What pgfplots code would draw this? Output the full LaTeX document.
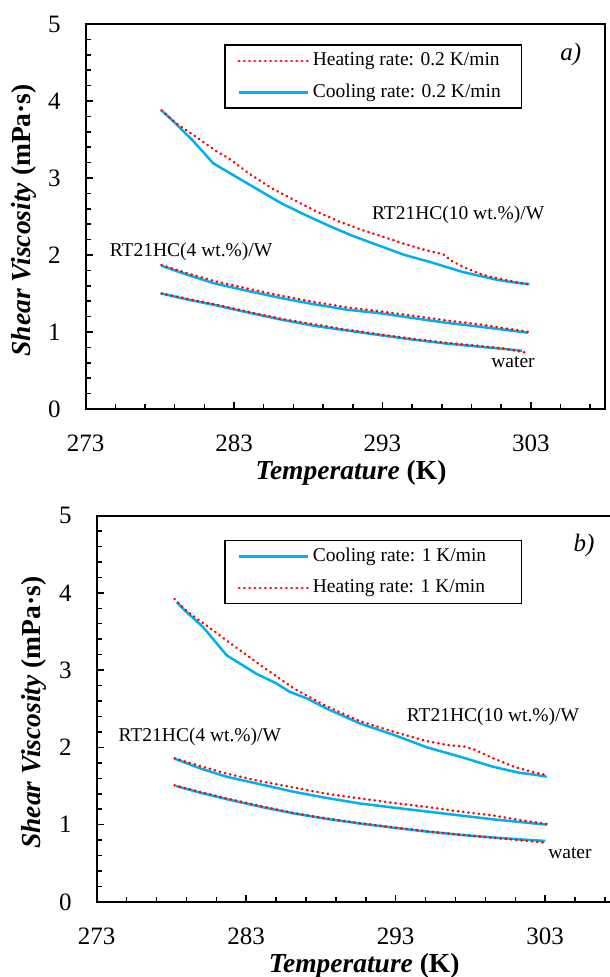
\documentclass[border=0pt]{standalone}
\usepackage{fontspec}
\setmainfont{Liberation Serif}
\usepackage{pgfplots}
\pgfplotsset{compat=1.18}

\definecolor{cool}{RGB}{0,176,240}
\definecolor{heat}{RGB}{255,0,0}
\newcommand{\lab}{\fontsize{7.8}{9}\selectfont}

\pgfplotsset{
  visc/.style={
    scale only axis,
    anchor=north west,
    xmin=273, xmax=308, ymin=0, ymax=5,
    xtick={273,283,293,303},
    minor xtick={275,277,...,307},
    ytick={0,1,...,5},
    minor ytick={0.2,0.4,...,4.8},
    tick align=inside,
    xtick pos=bottom, ytick pos=left,
    major tick length=2.8pt, minor tick length=2pt,
    axis line style={line width=0.8pt},
    tick style={black, line width=0.6pt},
    /pgf/number format/assume math mode=true,
    tick label style={font=\fontsize{10}{12}\selectfont},
    xticklabel style={yshift=-7pt},
    yticklabel style={xshift=-6.5pt},
    label style={font=\fontsize{11}{13}\selectfont\bfseries},
    xlabel={\textit{Temperature} (K)},
    ylabel={\textit{Shear Viscosity} (mPa·s)},
    xlabel style={at={(axis description cs:0.511,0)}, anchor=center, yshift=-25.6pt},
    ylabel style={at={(axis description cs:-0.119,0.49)}, anchor=center},
    legend cell align=left,
    legend image code/.code={\draw[##1] (0pt,0pt) -- (27.6pt,0pt);},
    legend style={anchor=north west, draw=black, line width=0.6pt, fill=white,
      font=\lab, inner xsep=5pt, inner ysep=1.2pt, row sep=2.4pt,
      nodes={inner sep=1.5pt, text height=5.6pt, text depth=1.6pt}},
  },
  coolline/.style={color=cool, line width=1pt, no markers},
  heatline/.style={color=heat, line width=1pt, line cap=round,
    dash pattern=on 0.2pt off 1.9pt, no markers},
}

\begin{document}
\begin{tikzpicture}
\path[use as bounding box] (0,0) rectangle (243.6pt,-390.8pt);

% ---- a) rate 0.2 K/min
\begin{axis}[visc, at={(34.28pt,-9.6pt)}, width=207.72pt, height=154pt,
  legend style={at={(0.267,0.947)}}]
  \addlegendimage{heatline}
  \addlegendentry{\makebox[77pt][l]{Heating rate: 0.2 K/min}}
  \addlegendimage{coolline}
  \addlegendentry{\makebox[77pt][l]{Cooling rate: 0.2 K/min}}

  % RT21HC(10 wt.%)/W
  \addplot[coolline, forget plot] coordinates {
    (278.1,3.88) (279.0,3.72) (280.2,3.49) (281.6,3.19) (283.1,3.02)
    (284.6,2.85) (286.2,2.67) (287.8,2.52) (289.5,2.37) (291.1,2.24)
    (292.8,2.12) (294.5,2.00) (296.2,1.91) (298.4,1.78) (300.8,1.675)
    (302.0,1.64) (302.9,1.62)};
  \addplot[heatline, forget plot] coordinates {
    (278.1,3.88) (279.1,3.71) (280.4,3.54) (281.7,3.36) (282.6,3.26)
    (284.0,3.06) (285.5,2.87) (287.0,2.72) (288.4,2.58) (290.0,2.44)
    (291.7,2.32) (293.0,2.24) (294.4,2.15) (295.6,2.08) (296.2,2.05)
    (297.1,2.01) (297.6,1.93) (298.5,1.84) (299.5,1.76) (300.4,1.71)
    (301.3,1.675) (302.0,1.65) (302.9,1.62)};
  % RT21HC(4 wt.%)/W
  \addplot[coolline, forget plot] coordinates {
    (278.1,1.86) (279.9,1.74) (281.7,1.63) (284.0,1.53) (286.2,1.44)
    (288.4,1.36) (290.6,1.29) (292.8,1.245) (295.1,1.18) (297.3,1.12)
    (299.5,1.07) (301.2,1.03) (302.8,0.99)};
  \addplot[heatline, forget plot] coordinates {
    (278.1,1.87) (279.9,1.76) (281.7,1.66) (284.0,1.56) (286.2,1.47)
    (288.4,1.39) (290.6,1.32) (292.8,1.27) (295.1,1.21) (297.3,1.15)
    (299.5,1.10) (301.2,1.05) (302.9,1.00)};
  % water
  \addplot[coolline, forget plot] coordinates {
    (278.1,1.50) (279.9,1.42) (281.7,1.35) (284.0,1.25) (286.2,1.16)
    (288.4,1.08) (290.6,1.02) (292.8,0.96) (295.1,0.90) (297.3,0.85)
    (299.5,0.81) (301.2,0.78) (302.4,0.757)};
  \addplot[heatline, forget plot] coordinates {
    (278.1,1.50) (279.9,1.43) (281.7,1.36) (284.0,1.26) (286.2,1.17)
    (288.4,1.10) (290.6,1.03) (292.8,0.97) (295.1,0.91) (297.3,0.86)
    (299.5,0.82) (301.2,0.785) (302.6,0.735)};

  \node[font=\lab] at (axis cs:298.1,2.52) {RT21HC(10 wt.\%)/W};
  \node[font=\lab] at (axis cs:280.1,2.04) {RT21HC(4 wt.\%)/W};
  \node[font=\lab] at (axis cs:301.8,0.61) {water};
  \node[font=\fontsize{10}{12}\selectfont\itshape] at (axis cs:305.7,4.6) {a)};
\end{axis}

% ---- b) rate 1 K/min
\begin{axis}[visc, at={(38.68pt,-206.2pt)}, width=209.32pt, height=154.6pt,
  legend style={at={(0.244,0.937)}}]
  \addlegendimage{coolline}
  \addlegendentry{\makebox[77pt][l]{Cooling rate: 1 K/min}}
  \addlegendimage{heatline}
  \addlegendentry{\makebox[77pt][l]{Heating rate: 1 K/min}}

  % RT21HC(10 wt.%)/W
  \addplot[coolline, forget plot] coordinates {
    (278.35,3.88) (278.9,3.77) (280.1,3.56) (281.7,3.19) (283.7,2.95)
    (285.0,2.83) (285.9,2.72) (287.1,2.63) (288.4,2.50) (290.6,2.31)
    (292.9,2.16) (295.1,2.00) (297.3,1.88) (299.5,1.75) (301.3,1.67)
    (302.2,1.65) (303.1,1.62)};
  \addplot[heatline, forget plot] coordinates {
    (278.2,3.92) (279.1,3.75) (280.4,3.57) (281.7,3.38) (283.0,3.20)
    (283.9,3.07) (286.2,2.76) (288.4,2.53) (290.6,2.34) (292.9,2.20)
    (295.1,2.08) (296.5,2.03) (297.6,2.01) (298.3,1.97) (299.5,1.86)
    (300.9,1.75) (302.0,1.69) (303.1,1.64)};
  % RT21HC(4 wt.%)/W
  \addplot[coolline, forget plot] coordinates {
    (278.2,1.855) (279.9,1.73) (281.7,1.62) (284.0,1.52) (286.2,1.425)
    (288.4,1.345) (290.6,1.275) (292.9,1.22) (295.1,1.17) (297.3,1.12)
    (299.5,1.07) (301.3,1.035) (303.1,1.00)};
  \addplot[heatline, forget plot] coordinates {
    (278.2,1.86) (279.9,1.76) (281.7,1.66) (284.0,1.56) (286.2,1.48)
    (288.4,1.40) (290.6,1.34) (292.9,1.28) (295.1,1.23) (297.3,1.17)
    (299.5,1.12) (301.3,1.06) (303.1,1.01)};
  % water
  \addplot[coolline, forget plot] coordinates {
    (278.3,1.50) (280.0,1.41) (281.7,1.33) (284.0,1.23) (286.2,1.145)
    (288.4,1.075) (290.6,1.015) (292.9,0.96) (295.1,0.91) (297.3,0.87)
    (299.5,0.835) (301.3,0.81) (303.0,0.79)};
  \addplot[heatline, forget plot] coordinates {
    (278.2,1.51) (280.0,1.42) (281.7,1.34) (284.0,1.24) (286.2,1.15)
    (288.4,1.08) (290.6,1.02) (292.9,0.965) (295.1,0.915) (297.3,0.87)
    (299.5,0.83) (301.3,0.80) (303.1,0.765)};

  \node[font=\lab] at (axis cs:299.5,2.40) {RT21HC(10 wt.\%)/W};
  \node[font=\lab] at (axis cs:279.9,2.14) {RT21HC(4 wt.\%)/W};
  \node[font=\lab] at (axis cs:304.65,0.63) {water};
  \node[font=\fontsize{10}{12}\selectfont\itshape] at (axis cs:305.6,4.61) {b)};
\end{axis}
\end{tikzpicture}
\end{document}
